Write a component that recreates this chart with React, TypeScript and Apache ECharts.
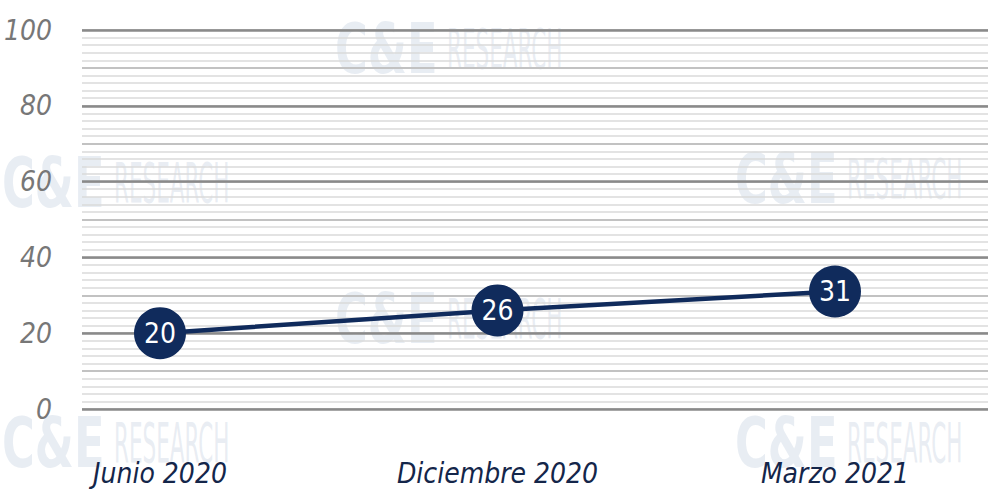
import React, { useEffect, useRef } from "react";
import * as echarts from "echarts";

const categories = ["Junio 2020", "Diciembre 2020", "Marzo 2021"];
const values = [20, 26, 31];
const yMin = 0;
const yMax = 100;
const yMajorStep = 20;
const yMidStep = 10;

const NAVY = "#102b5c";
const NARROW = "DejaVu Sans Condensed";

const watermarkSpots: [number, number][] = [
  [335, 14],
  [2, 148],
  [735, 144],
  [335, 284],
  [2, 408],
  [735, 408],
];

function watermark(x: number, y: number) {
  return {
    type: "group",
    x,
    y,
    silent: true,
    z: -10,
    children: [
      {
        type: "text",
        x: 0,
        y: 0,
        scaleX: 0.8,
        scaleY: 1.25,
        style: {
          text: "C&E",
          fontSize: 56,
          fontWeight: 900,
          fontFamily: "DejaVu Sans",
          fill: "rgba(205,214,228,0.45)",
        },
      },
      {
        type: "text",
        x: 112,
        y: 8,
        scaleX: 0.52,
        scaleY: 1.2,
        style: {
          text: "RESEARCH",
          fontSize: 46,
          fontFamily: NARROW,
          fill: "rgba(205,214,228,0.45)",
        },
      },
    ],
  };
}

export default function App() {
  const ref = useRef<HTMLDivElement>(null);
  useEffect(() => {
    if (!ref.current) return;
    const chart = echarts.init(ref.current, undefined, { renderer: "svg" });
    chart.setOption({
      animation: false,
      backgroundColor: "#ffffff",
      graphic: watermarkSpots.map(([x, y]) => watermark(x, y)),
      grid: [
        { left: 82, right: 0, top: 30, bottom: 86, outerBoundsMode: "none", containLabel: false },
        { left: 160, right: 153, top: 30, bottom: 86, outerBoundsMode: "none", containLabel: false },
      ],
      xAxis: [
        { gridIndex: 0, type: "category", data: categories, show: false },
        {
          gridIndex: 1,
          type: "category",
          data: categories,
          boundaryGap: false,
          axisLine: { show: false },
          axisTick: { show: false },
          splitLine: { show: false },
          axisLabel: {
            margin: 50,
            fontSize: 28,
            fontStyle: "italic",
            fontFamily: NARROW,
            color: "#14264a",
          },
        },
      ],
      yAxis: [
        {
          gridIndex: 0,
          type: "value",
          position: "left",
          min: yMin,
          max: yMax,
          interval: yMidStep,
          axisLabel: { show: false },
          axisLine: { show: false },
          axisTick: { show: false },
          splitLine: { show: true, lineStyle: { color: "#c2c2c2", width: 2 } },
          minorTick: { show: false, splitNumber: 5 },
          minorSplitLine: { show: true, lineStyle: { color: "#dadada", width: 1.5 } },
        },
        {
          gridIndex: 0,
          type: "value",
          position: "left",
          min: yMin,
          max: yMax,
          interval: yMajorStep,
          axisLine: { show: false },
          axisTick: { show: false },
          splitLine: { show: true, lineStyle: { color: "#8a8a8a", width: 2.5 } },
          axisLabel: {
            margin: 30,
            fontSize: 28,
            fontStyle: "italic",
            fontFamily: NARROW,
            color: "#777777",
          },
        },
        { gridIndex: 1, type: "value", min: yMin, max: yMax, show: false, splitLine: { show: false } },
      ],
      series: [
        {
          type: "line",
          xAxisIndex: 1,
          yAxisIndex: 2,
          data: values,
          symbol: "circle",
          symbolSize: 52,
          itemStyle: { color: NAVY },
          lineStyle: { color: NAVY, width: 4.5 },
          label: {
            show: true,
            position: "inside",
            color: "#ffffff",
            fontSize: 28,
            fontFamily: NARROW,
          },
        },
      ],
    });
    return () => chart.dispose();
  }, []);
  return <div ref={ref} style={{ width: 988, height: 495, position: "absolute", left: 0, top: 0 }} />;
}
